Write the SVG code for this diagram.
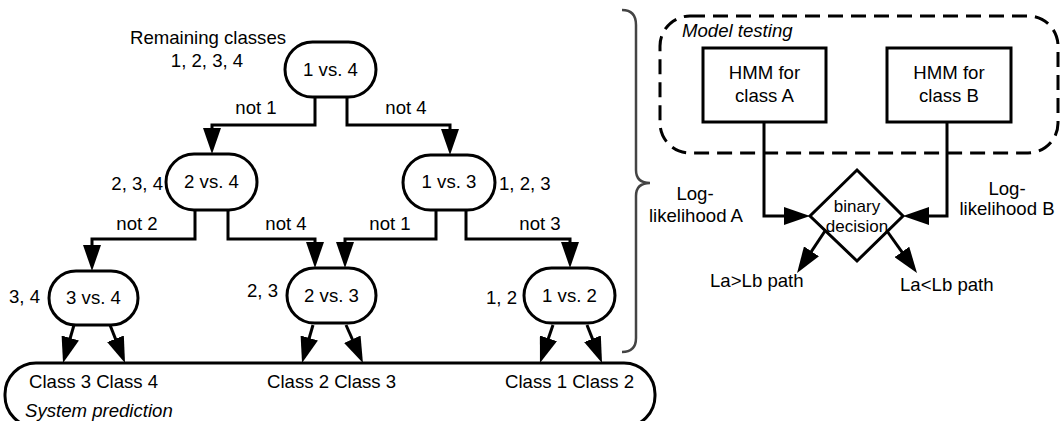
<svg xmlns="http://www.w3.org/2000/svg" width="1061" height="421" viewBox="0 0 1061 421">
<defs>
<style>
text{font-family:"Liberation Sans",Arial,sans-serif;font-size:18.6px;fill:#000}
.m{text-anchor:middle}
.e{text-anchor:end}
.i{font-style:italic}
.node{fill:#fff;stroke:#000;stroke-width:3}
.conn{fill:none;stroke:#000;stroke-width:3}
.dash{fill:none;stroke:#000;stroke-width:3;stroke-dasharray:15 8}
.brace{fill:none;stroke:#444;stroke-width:2.5}
</style>
<marker id="ah" viewBox="0 0 26 18" markerWidth="26" markerHeight="18" refX="20" refY="9" orient="auto" markerUnits="userSpaceOnUse">
<path d="M0,0 L26,9 L0,18 z" fill="#000"/>
</marker>
</defs>
<rect width="1061" height="421" fill="#fff"/>

<g id="connectors">
<path class="conn" marker-end="url(#ah)" d="M315,97 V125 H212 V148"/>
<path class="conn" marker-end="url(#ah)" d="M347,97 V125 H450 V149"/>
<path class="conn" marker-end="url(#ah)" d="M195,210 V239 H92 V265"/>
<path class="conn" marker-end="url(#ah)" d="M228,210 V239 H315 V262"/>
<path class="conn" marker-end="url(#ah)" d="M436,210 V239 H345 V262"/>
<path class="conn" marker-end="url(#ah)" d="M466,210 V239 H570 V262"/>
<path class="conn" marker-end="url(#ah)" d="M74,325 L64.7,357.2"/>
<path class="conn" marker-end="url(#ah)" d="M110,325 L122.8,357.4"/>
<path class="conn" marker-end="url(#ah)" d="M313,325 L303.7,357.2"/>
<path class="conn" marker-end="url(#ah)" d="M346,325 L360.5,357.5"/>
<path class="conn" marker-end="url(#ah)" d="M553,325 L541.9,357.3"/>
<path class="conn" marker-end="url(#ah)" d="M587,325 L599.8,357.4"/>
<path class="conn" marker-end="url(#ah)" d="M764,122 V216 H804"/>
<path class="conn" marker-end="url(#ah)" d="M947,122 V216 H909"/>
<path class="conn" marker-end="url(#ah)" d="M825,231 L800.4,268"/>
<path class="conn" marker-end="url(#ah)" d="M887,231 L913.5,268.2"/>
</g>

<g id="n1v4"><rect class="node" x="285" y="42" width="91" height="55" rx="27.5"/><text class="m" x="330.5" y="76">1 vs. 4</text></g>
<g id="n2v4"><rect class="node" x="166" y="154" width="91" height="56" rx="28"/><text class="m" x="211.5" y="188">2 vs. 4</text></g>
<g id="n1v3"><rect class="node" x="403" y="155" width="92" height="55" rx="27.5"/><text class="m" x="449" y="188">1 vs. 3</text></g>
<g id="n3v4"><rect class="node" x="49" y="271" width="89" height="54" rx="27"/><text class="m" x="93.5" y="304">3 vs. 4</text></g>
<g id="n2v3"><rect class="node" x="287" y="268" width="89" height="55" rx="27.5"/><text class="m" x="331.5" y="302">2 vs. 3</text></g>
<g id="n1v2"><rect class="node" x="524" y="268" width="91" height="55" rx="27.5"/><text class="m" x="569.5" y="302">1 vs. 2</text></g>

<g id="labels">
<text class="m" x="208" y="44">Remaining classes</text>
<text class="m" x="207" y="67">1, 2, 3, 4</text>
<text class="m" x="256" y="114">not 1</text>
<text class="m" x="406" y="114">not 4</text>
<text class="e" x="163" y="190">2, 3, 4</text>
<text x="499" y="190">1, 2, 3</text>
<text class="m" x="137" y="230">not 2</text>
<text class="m" x="286" y="230">not 4</text>
<text class="m" x="390" y="230">not 1</text>
<text class="m" x="540" y="230">not 3</text>
<text class="e" x="40" y="303">3, 4</text>
<text class="e" x="278" y="297">2, 3</text>
<text class="e" x="517" y="304">1, 2</text>
</g>

<g id="prediction">
<rect class="node" x="5" y="363" width="650" height="64" rx="31"/>
<text x="29" y="388">Class 3 Class 4</text>
<text x="267" y="388">Class 2 Class 3</text>
<text x="505" y="388">Class 1 Class 2</text>
<text class="i" x="25" y="417">System prediction</text>
</g>

<g id="brace">
<path class="brace" d="M622,10 Q636,10 636,25 V170 Q636,183 650,183 Q636,183 636,196 V338 Q636,352 622,352"/>
</g>

<g id="model-testing">
<rect class="dash" x="660" y="16" width="398" height="137" rx="30"/>
<text class="i" x="682" y="37">Model testing</text>
</g>
<g id="hmmA"><rect class="node" x="703" y="48" width="123" height="74"/><text class="m" x="764.5" y="79">HMM for</text><text class="m" x="764.5" y="102">class A</text></g>
<g id="hmmB"><rect class="node" x="887" y="48" width="124" height="74"/><text class="m" x="949" y="79">HMM for</text><text class="m" x="949" y="102">class B</text></g>
<g id="decision"><path class="node" d="M857,170 L903,216 L857,261 L810,216 z"/><text class="m" x="857" y="212" style="font-size:17px">binary</text><text class="m" x="857" y="232" style="font-size:17px">decision</text></g>

<g id="rlabels">
<text class="m" x="695" y="200">Log-</text>
<text class="m" x="696" y="222">likelihood A</text>
<text class="m" x="1007" y="195">Log-</text>
<text class="m" x="1007" y="215">likelihood B</text>
<text x="710" y="287">La&gt;Lb path</text>
<text x="900" y="291">La&lt;Lb path</text>
</g>
</svg>
